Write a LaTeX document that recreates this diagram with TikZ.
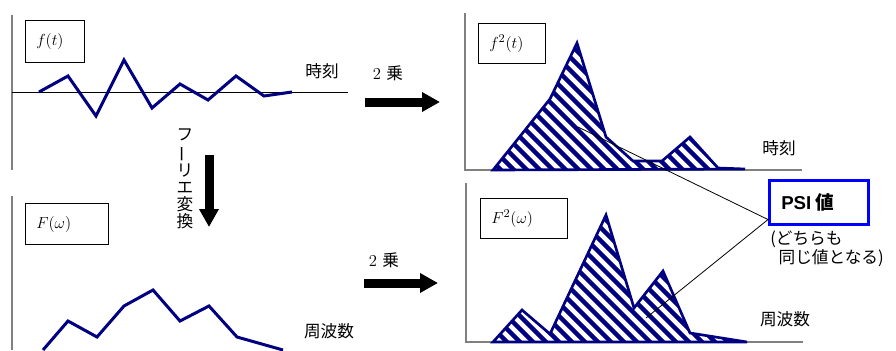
\documentclass[tikz,border=0pt]{standalone}
\usepackage{fontspec}
\usepackage{graphicx}
\usetikzlibrary{arrows.meta}
\newfontfamily\jpfont{Noto Sans CJK JP}
\newfontfamily\psifont{Liberation Sans}

\definecolor{navy}{RGB}{0,0,128}
\colorlet{axcol}{black!50}
\colorlet{psicol}{blue}
\tikzset{>=latex}
\tikzstyle{axis}=[axcol,line width=1.5pt]
\tikzstyle{signal}=[navy,line width=2.25pt,line join=miter]
\tikzstyle{power}=[navy,line width=2pt,line join=miter]
\tikzstyle{stripe}=[navy,line width=3.3pt]
\tikzstyle{jptext}=[font=\jpfont\fontsize{12.5}{15}\selectfont]
\tikzstyle{jpvertical}=[font=\jpfont\fontsize{12.5}{12.75}\selectfont,align=center]
\tikzstyle{bigarrow}=[line width=6.75pt,-{Triangle[length=13.5pt,width=14pt]}]
\tikzstyle{leader}=[black,line width=0.6pt]
\tikzset{
  labelbox/.style={draw,line width=0.9pt,anchor=north west,align=left,
    inner xsep=8pt,text width=#1,font=\fontsize{12.5}{14}\selectfont},
  psibox/.style={draw=psicol,line width=1.9pt,anchor=north west,align=left,
    inner xsep=9pt,text width=56.25pt,minimum height=33pt}
}

\begin{document}
\begin{tikzpicture}[x=0.75pt,y=-0.75pt]
  \useasboundingbox (0,0) rectangle (896,350);
  \def\sqsignal{(493,170) -- (550,99) -- (577,43) -- (606,137) -- (633,161)
    -- (662,161) -- (690,137) -- (718,168) -- (745,169) -- cycle}
  \def\sqspectrum{(493,342) -- (522,310) -- (550,334) -- (606,215) -- (634,308)
    -- (663,271) -- (690,333) -- (747,342) -- cycle}

  % TIME SIGNAL
  \draw[axis] (12,15) -- (12,170);
  \draw[black,line width=0.75pt] (12,92) -- (348,92);
  \draw[signal] plot coordinates {(39,92) (68,76) (96,116) (124,60) (152,108)
    (180,84) (208,100) (236,76) (264,96) (292,92)};
  \node[labelbox=28.25pt,minimum height=31.5pt] (ft) at (25,20) {$f(t)$};
  \node[jptext] (time1) at (322,71) {時刻};

  % SPECTRUM
  \draw[axis] (12,196) -- (12,350);
  \draw[signal] plot coordinates {(43,350) (68,321) (97,337) (124,306) (153,290)
    (180,321) (209,306) (237,337) (283,350)};
  \node[labelbox=46.25pt,minimum height=30.75pt] (Fw) at (25,203) {$F(\omega)$};
  \node[jptext] (freq1) at (329,331) {周波数};

  % FOURIER TRANSFORM
  \coordinate (ftDown) at (209,155);
  \coordinate (FwUp) at (209,227);
  \draw[bigarrow] (ftDown) -- (FwUp);
  \node[jpvertical] (fourier) at (185,178.5)
    {フ\\\rotatebox[origin=c]{90}{ー}\\リ\\エ\\変\\換};

  % SQUARING
  \coordinate (sqTopA) at (365,102);
  \coordinate (sqTopB) at (440,102);
  \draw[bigarrow] (sqTopA) -- (sqTopB);
  \node[font=\fontsize{12.5}{15}\selectfont] (sqTop) at (388,73) {2 {\jpfont 乗}};
  \coordinate (sqBotA) at (364,283);
  \coordinate (sqBotB) at (438,283);
  \draw[bigarrow] (sqBotA) -- (sqBotB);
  \node[font=\fontsize{12.5}{15}\selectfont] (sqBot) at (384,260) {2 {\jpfont 乗}};

  % SQUARED SIGNAL
  \draw[axis] (465,13) -- (465,170) -- (802,170);
  \begin{scope}
    \clip \sqsignal;
    \foreach \s in {480,493,...,900}
      \draw[stripe] (\s,175) -- (\s-140,35);
  \end{scope}
  \draw[power] \sqsignal;
  \node[labelbox=34.25pt,minimum height=30pt] (ft2) at (478,23) {$f^2(t)$};
  \node[jptext] (time2) at (779,148) {時刻};

  % SQUARED SPECTRUM
  \draw[axis] (466,183) -- (466,342) -- (803,342);
  \begin{scope}
    \clip \sqspectrum;
    \foreach \s in {486,499,...,900}
      \draw[stripe] (\s,347) -- (\s-140,207);
  \end{scope}
  \draw[power] \sqspectrum;
  \node[labelbox=49.25pt,minimum height=30pt] (Fw2) at (480,198) {$F^2(\omega)$};
  \node[jptext] (freq2) at (785,319) {周波数};

  % PSI VALUE
  \node[psibox] (psi) at (768,179)
    {{\psifont\bfseries\fontsize{14}{16}\selectfont PSI }{\jpfont\bfseries\fontsize{14}{16}\selectfont 値}};
  \coordinate (psiTip) at ([yshift=4.5pt]psi.south west);
  \coordinate (areaT) at (578,127);
  \coordinate (areaF) at (646,318);
  \draw[leader] (areaT) -- (psiTip) -- (areaF);
  \node[jptext,align=left,anchor=north west,inner sep=0pt,
    font=\jpfont\fontsize{12.5}{14.25}\selectfont] (note) at (770,231)
    {(どちらも\\\hspace*{0.5em}同じ値となる)};
\end{tikzpicture}
\end{document}
